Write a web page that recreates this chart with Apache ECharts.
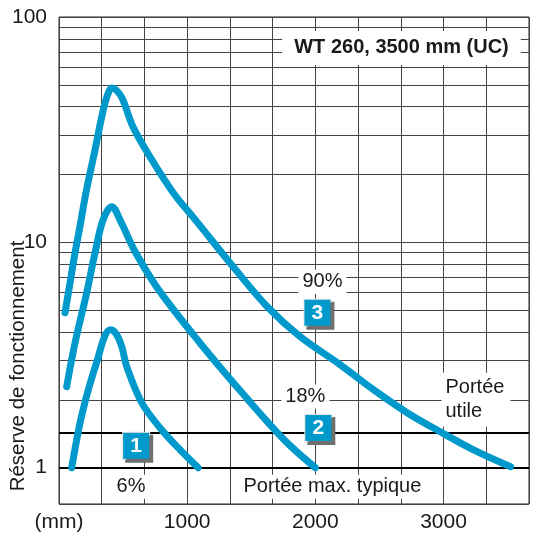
<!DOCTYPE html>
<html>
<head>
<meta charset="utf-8">
<script src="https://cdn.jsdelivr.net/npm/echarts@6/dist/echarts.min.js"></script>
<style>
  html, body { margin: 0; padding: 0; background: #fff; }
  #chart { width: 533px; height: 540px; }
</style>
</head>
<body>
<div id="chart"></div>
<script>
// Réserve de fonctionnement vs distance (mm)
const dist6 = [99, 164, 229, 307, 352, 398, 445, 490, 529, 646, 802, 945, 1086];
const reserve6 = [1.0, 1.58, 2.22, 3.11, 3.77, 4.09, 3.93, 3.44, 2.8, 1.94, 1.47, 1.2, 1.0];

const dist18 = [60, 125, 216, 281, 344, 412, 484, 594, 750, 906, 1086, 1273, 1469, 1625, 1805, 2000];
const reserve18 = [2.29, 3.58, 5.97, 8.98, 12.6, 14.4, 12.3, 9.08, 6.48, 4.92, 3.66, 2.72, 2.02, 1.6, 1.25, 1.0];

const dist90 = [47, 86, 125, 164, 203, 242, 281, 320, 359, 391, 414, 445, 492, 578, 711, 891, 1078, 1359, 1625, 1883, 2195, 2453, 2719, 2977, 3234, 3523];
const reserve90 = [4.87, 6.61, 8.98, 11.8, 15.8, 20.3, 25.7, 33.2, 41.6, 47.0, 48.4, 47.5, 43.7, 32.5, 23.9, 16.6, 12.3, 7.79, 5.18, 3.81, 2.86, 2.22, 1.75, 1.44, 1.2, 1.01];

const xTicks = [1000, 2000, 3000];
const yTicks = [1, 10, 100];
const minorLines = [2, 3, 4, 5, 6, 7, 8, 9, 20, 30, 40, 50, 60, 70, 80, 90];
const thickLines = [1, 1.43]; // 1 = portée max. typique, 1.43 = portée utile

const BLUE = '#0099cc';
const FONT = 'Liberation Sans';
const TEXT = '#1a1a1a';

const zip = (xs, ys) => xs.map((x, i) => [x, ys[i]]);

function curve(name, xs, ys) {
	return {
		name: name,
		type: 'line',
		data: zip(xs, ys),
		smooth: 0.35,
		showSymbol: false,
		symbol: 'none',
		z: 3,
		lineStyle: { color: BLUE, width: 7, cap: 'round', join: 'round' }
	};
}

function box(num, x, y) {
	return {
		value: [x, y],
		label: {
			formatter: num,
			color: '#fff',
			fontWeight: 'bold',
			fontSize: 21,
			backgroundColor: BLUE,
			width: 26,
			height: 26,
			lineHeight: 26,
			align: 'center',
			verticalAlign: 'middle',
			borderColor: '#e2e2e2',
			borderWidth: 1,
			shadowColor: '#6f6f6f',
			shadowOffsetX: 3,
			shadowOffsetY: 3,
			shadowBlur: 0
		}
	};
}

function note(text, x, y, extra) {
	return {
		value: [x, y],
		label: Object.assign({
			formatter: text,
			color: TEXT,
			opacity: 1,
			textBorderWidth: 0,
			fontSize: 20,
			backgroundColor: '#fff',
			padding: [2, 4],
			align: 'center',
			verticalAlign: 'middle'
		}, extra || {})
	};
}

const chart = echarts.init(document.getElementById('chart'));

const option = {
	animation: false,
	textStyle: { fontFamily: FONT },
	grid: {
		left: 59, right: 4, top: 17, bottom: 36,
		show: true, borderColor: '#222', borderWidth: 1, backgroundColor: 'transparent'
	},
	xAxis: {
		type: 'value',
		min: 0,
		max: 11000 / 3,
		interval: 1000 / 3,
		axisLine: { show: false },
		axisTick: { show: false },
		splitLine: { show: true, lineStyle: { color: '#444', width: 1 } },
		axisLabel: {
			margin: 8,
			fontSize: 21,
			color: TEXT,
			fontFamily: FONT,
			showMaxLabel: false,
			formatter: v => {
				if (v < 1) return '(mm)';
				const k = xTicks.find(t => Math.abs(t - v) < 1);
				return k ? String(k) : '';
			}
		}
	},
	yAxis: {
		type: 'log',
		logBase: 10,
		min: 0.69,
		max: 100,
		axisLine: { show: false },
		axisTick: { show: false },
		splitLine: { show: true, lineStyle: { color: '#444', width: 1 } },
		axisLabel: {
			margin: 12,
			fontSize: 21,
			color: TEXT,
			fontFamily: FONT,
			formatter: v => {
				const k = yTicks.find(t => Math.abs(t - v) / t < 0.01);
				return k ? String(k) : '';
			}
		}
	},
	graphic: [{
		type: 'text',
		x: 18,
		y: 366,
		rotation: Math.PI / 2,
		style: {
			text: 'Réserve de fonctionnement',
			fontSize: 20.5,
			fontFamily: FONT,
			fill: TEXT,
			align: 'center',
			verticalAlign: 'middle'
		}
	}],
	series: [
		Object.assign(curve('6%', dist6, reserve6), {
			markLine: {
				silent: true,
				symbol: 'none',
				z: 1,
				label: { show: false },
				data: minorLines.map(v => ({ yAxis: v, lineStyle: { color: '#444', width: 1, type: 'solid' } }))
					.concat(thickLines.map(v => ({ yAxis: v, lineStyle: { color: '#000', width: 2, type: 'solid' } })))
			}
		}),
		curve('18%', dist18, reserve18),
		curve('90%', dist90, reserve90),
		{
			name: 'notes',
			type: 'scatter',
			symbolSize: 0,
			z: 10,
			silent: true,
			itemStyle: { color: '#fff', opacity: 1 },
			label: { show: true, position: 'inside', fontFamily: FONT, color: TEXT },
			data: [
				note('WT 260, 3500 mm (UC)', 2672, 72.9, { fontWeight: 'bold', fontSize: 20, padding: [7, 12] }),
				note('90%', 2055, 6.68),
				box('3', 2016, 4.87),
				note('18%', 1922, 2.07),
				box('2', 2023, 1.5),
				box('1', 602, 1.25),
				note('6%', 562, 0.823),
				note('Portée max. typique', 2133, 0.823),
				note('Portée\nutile', 2984, 2.0, { align: 'left', lineHeight: 24, padding: [3, 6, 3, 4] })
			]
		}
	]
};

chart.setOption(option);
</script>
</body>
</html>
